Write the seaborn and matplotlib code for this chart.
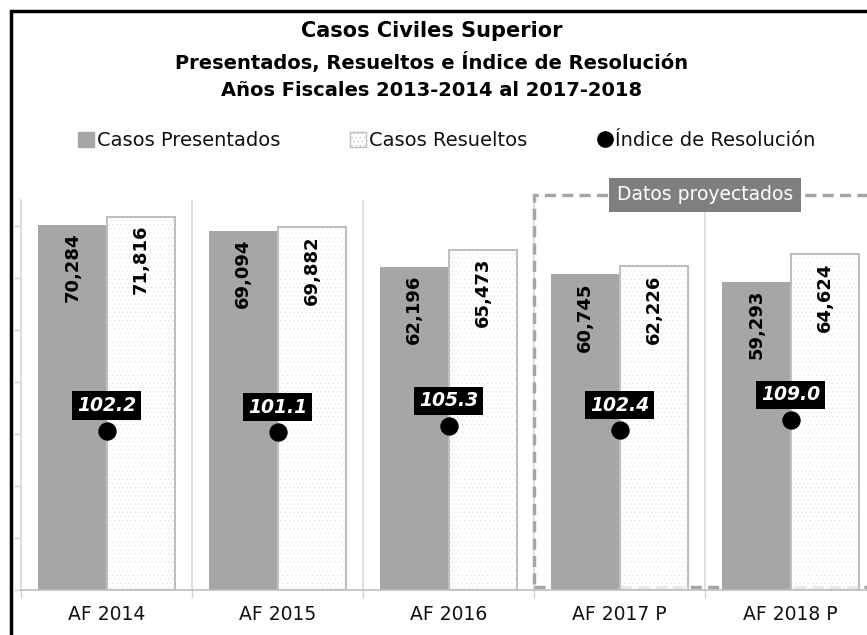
import numpy as np
import pandas as pd
import matplotlib
matplotlib.use("Agg")
import matplotlib.pyplot as plt
import seaborn as sns
from matplotlib.patches import Rectangle, Patch
from matplotlib.lines import Line2D

# ---- data ----
categorias = ["AF 2014", "AF 2015", "AF 2016", "AF 2017 P", "AF 2018 P"]
presentados = [70284, 69094, 62196, 60745, 59293]
resueltos = [71816, 69882, 65473, 62226, 64624]
indice = [102.2, 101.1, 105.3, 102.4, 109.0]
serie_names = ["Casos Presentados", "Casos Resueltos", "Índice de Resolución"]
titulo = ["Casos Civiles Superior",
          "Presentados, Resueltos e Índice de Resolución",
          "Años Fiscales 2013-2014 al 2017-2018"]
proyectado_label = "Datos proyectados"

sns.set_theme(style="white")
plt.rcParams["font.family"] = ["DejaVu Sans"]
plt.rcParams["hatch.linewidth"] = 0.4

df = pd.DataFrame({
    "cat": categorias * 2,
    "serie": [serie_names[0]] * len(categorias) + [serie_names[1]] * len(categorias),
    "valor": presentados + resueltos,
})

W, H = 867, 635
fig = plt.figure(figsize=(W / 100, H / 100), dpi=100)
ax = fig.add_axes([21 / W, (H - 590) / H, (876 - 21) / W, 390 / H])

gray = "#A6A6A6"
sns.barplot(data=df, x="cat", y="valor", hue="serie", ax=ax,
            palette={serie_names[0]: gray, serie_names[1]: "white"},
            saturation=1, width=0.8, legend=False, zorder=3)

for p in ax.containers[0]:
    p.set_edgecolor(gray)
    p.set_linewidth(0)
for p in ax.containers[1]:
    p.set_edgecolor("#E4E4E4")
    p.set_linewidth(0)
    p.set_hatch("....")
    p.set_facecolor((1, 1, 1, 0.8))
    # outline drawn from the bar's own geometry
    ax.add_patch(Rectangle((p.get_x(), p.get_y()), p.get_width(), p.get_height(),
                           fill=False, edgecolor="#BFBFBF", linewidth=1.5, zorder=3.5))

ax.set_ylim(0, 75000)
ax.set_xlim(-0.5, len(categorias) - 0.5)
ax.set_xlabel("")
ax.set_ylabel("")
ax.set_yticks(np.arange(0, 75001, 10000))
ax.set_yticklabels([])
ax.tick_params(axis="y", left=True, length=5, color="#D0D0D0", width=1)
ax.set_xticks(range(len(categorias)))
ax.set_xticklabels(categorias, fontsize=13.5, color="#111111")
ax.tick_params(axis="x", bottom=False, pad=5)
ax.set_xticks(np.arange(-0.5, len(categorias), 1), minor=True)
ax.tick_params(axis="x", which="minor", bottom=True, length=6, color="#D0D0D0")
ax.grid(False)
ax.grid(True, axis="x", which="minor", color="#D9D9D9", linewidth=1.2, zorder=0)
for s in ["top", "right"]:
    ax.spines[s].set_visible(False)
ax.spines["left"].set_color("#D9D9D9")
ax.spines["bottom"].set_color("#BFBFBF")
ax.spines["bottom"].set_linewidth(1.2)
ax.spines["bottom"].set_zorder(4)

# value labels
for cont, vals in zip(ax.containers[:2], [presentados, resueltos]):
    for p, v in zip(cont, vals):
        ax.annotate(f"{v:,}", (p.get_x() + p.get_width() / 2, p.get_height()),
                    xytext=(0, -6), textcoords="offset points",
                    rotation=90, ha="center", va="top", fontsize=13,
                    fontweight="bold", color="black", zorder=6)

# projected box
box = Rectangle((2.5, 500), 2.0, 76000 - 500, fill=False, linestyle=(0, (3.2, 1.8)),
                edgecolor="#A6A6A6", linewidth=2.5, clip_on=False, zorder=1)
ax.add_patch(box)
ax.text(3.5, 76000, proyectado_label, ha="center", va="center", fontsize=13.5,
        color="white", zorder=7, clip_on=False,
        bbox=dict(boxstyle="square,pad=0.4", facecolor="#7F7F7F", edgecolor="none"))

# index on secondary axis
ax2 = ax.twinx()
ax2.set_ylim(0, 250)
sns.scatterplot(x=np.arange(len(categorias)), y=indice, ax=ax2, s=150,
                color="black", edgecolor="black", legend=False, zorder=5)
ax2.set_xlim(-0.5, len(categorias) - 0.5)
ax2.set_yticks([])
ax2.set_ylabel("")
for s in ax2.spines.values():
    s.set_visible(False)
for i, v in enumerate(indice):
    ax2.annotate(f"{v:.1f}", (i, v), xytext=(0, 18), textcoords="offset points",
                 ha="center", va="center", fontsize=13.5, fontweight="bold",
                 fontstyle="italic", color="white", zorder=8,
                 bbox=dict(boxstyle="square,pad=0.25", facecolor="black", edgecolor="none"))

# titles
fig.text(432 / W, 1 - 31 / H, titulo[0], ha="center", va="center",
         fontsize=15, fontweight="bold", color="black")
fig.text(432 / W, 1 - 62 / H, titulo[1], ha="center", va="center",
         fontsize=14, fontweight="bold", color="black")
fig.text(432 / W, 1 - 90 / H, titulo[2], ha="center", va="center",
         fontsize=14, fontweight="bold", color="black")

# legend
handles = [Patch(facecolor=gray, edgecolor=gray),
           Patch(facecolor="white", edgecolor="#BFBFBF", hatch="...."),
           Line2D([], [], marker="o", linestyle="none", color="black", markersize=11)]
fig.legend(handles, serie_names, loc="center", bbox_to_anchor=(447 / W, 1 - 141 / H),
           ncol=3, frameon=False, fontsize=14, handlelength=0.8, handleheight=0.8,
           handletextpad=0.15, columnspacing=3.6, labelcolor="#111111")

# figure border
fig.add_artist(Rectangle((11 / W, -0.1), 1.2, 1 - 11 / H + 0.1, transform=fig.transFigure,
                         fill=False, edgecolor="black", linewidth=2.5))

fig.savefig("out.png", dpi=100)
